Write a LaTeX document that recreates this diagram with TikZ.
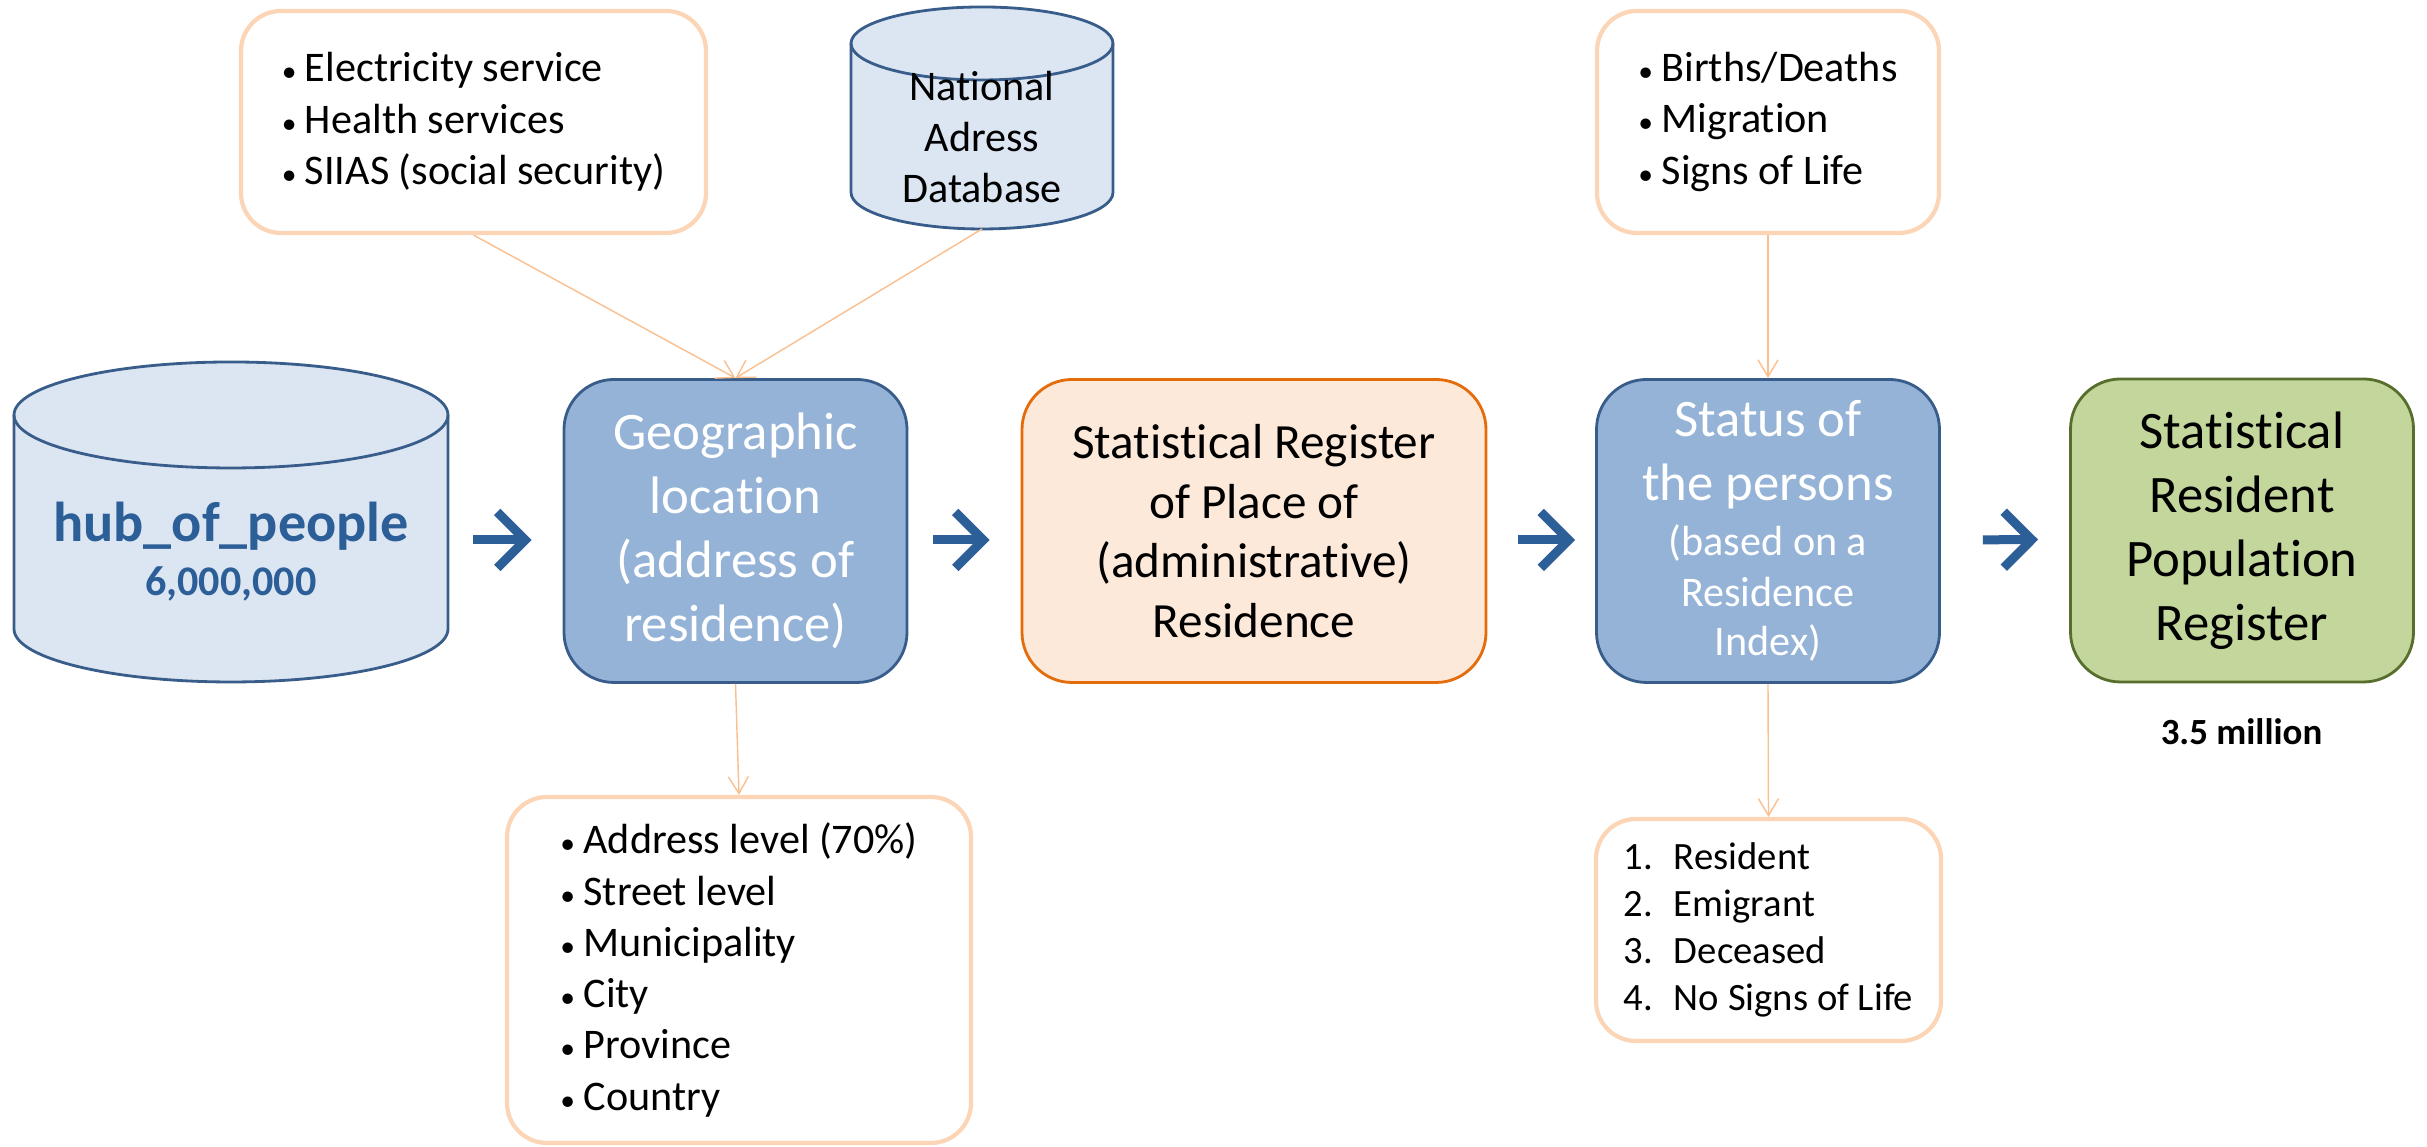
\documentclass[tikz,border=0pt]{standalone}
\usepackage{fontspec}
\setmainfont{Carlito}[Ligatures=NoCommon]
\usepackage{graphicx}
\usepackage{tikz}
\usetikzlibrary{arrows,arrows.meta,positioning}
\definecolor{dbfill}{RGB}{220,230,242}
\definecolor{dbline}{RGB}{56,93,138}
\definecolor{geofill}{RGB}{149,179,215}
\definecolor{regfill}{RGB}{253,233,217}
\definecolor{regline}{RGB}{228,108,10}
\definecolor{popfill}{RGB}{195,214,155}
\definecolor{popline}{RGB}{88,110,45}
\definecolor{srcline}{RGB}{251,213,181}
\definecolor{linkcol}{RGB}{250,191,143}
\definecolor{hubblue}{RGB}{44,94,152}
\newcommand\fs[2]{\fontsize{#1}{#2}\selectfont}
\newcommand\bulit{\makebox[0.55em][l]{\scalebox{0.7}{\textbullet}}}
\newcommand\itemno[1]{\makebox[1.3em][l]{#1.}}

\begin{document}
\begin{tikzpicture}[%
        link/.style={draw=linkcol,-{Straight Barb[length=4.8pt,width=5.7pt]}},
        bigarr/.style={draw=hubblue,line width=0.09cm,-{Straight Barb[length=0.28cm,width=0.56cm]}}]%
        \useasboundingbox (0,0) rectangle (24.27,11.47);%
        %% data base drums
        \draw[dbline,fill=dbfill,line width=0.8pt] (0.14,7.32) -- (0.14,5.18) arc (180:360:2.17 and 0.53) -- (4.48,7.32) arc (0:180:2.17 and 0.53) -- cycle; %%
        \draw[dbline,line width=0.8pt] (0.14,7.32) arc (180:360:2.17 and 0.53); %%
        \draw[dbline,fill=dbfill,line width=0.8pt] (8.51,11.035) -- (8.51,9.545) arc (180:360:1.31 and 0.365) -- (11.13,11.035) arc (0:180:1.31 and 0.365) -- cycle; %%
        \draw[dbline,line width=0.8pt] (8.51,11.035) arc (180:360:1.31 and 0.365); %%
        \coordinate (hubE) at (4.48,6.16); %%
        \coordinate (nadb) at (9.82,9.18); %%
        \node[text=hubblue,font=\bfseries\fs{16}{19.2},align=center] (hub) at (2.31,5.955) {hub\_of\_people\\[-0.13cm]{\fs{12}{14.4}6,000,000}}; %%
        \node[align=center,font=\fs{12}{14.6}] (nad) at (9.82,10.10) {National\\Adress\\Database}; %%
        %% main row
        \begin{scope}
        \tikzstyle{every node}=[draw,line width=0.8pt,rounded corners=0.5cm,align=center,minimum width=3.43cm,minimum height=3.03cm,font=\fs{15}{18.2}] %%
        \node[fill=geofill,draw=dbline,text=white] (geo) at (7.355,6.16) {Geographic\\location\\(address of\\residence)}; %%
        \node[fill=regfill,draw=regline,minimum width=4.64cm,font=\fs{14}{17}] (reg) at (12.54,6.16) {Statistical Register\\of Place of\\(administrative)\\Residence}; %%
        \node[fill=geofill,draw=dbline,text=white] (status) at (17.68,6.16) {Status of\\the persons\\[-0.09cm]{\fs{12}{14.5}(based on a}\\[-0.13cm]{\fs{12}{14.5}Residence}\\[-0.15cm]{\fs{12}{14.5}Index)}}; %%
        \node[fill=popfill,draw=popline] (popreg) at (22.42,6.165) {Statistical\\Resident\\Population\\Register}; %%
        \end{scope}
        \node[font=\bfseries\fs{10.5}{12.6}] (million) at (22.415,4.15) {3.5 million}; %%
        %% source and outcome lists
        \begin{scope}
        \tikzstyle{every node}=[draw=srcline,line width=1.2pt,fill=white,rounded corners=0.4cm,align=left,font=\fs{12}{14.6}] %%
        \node[minimum width=4.65cm,minimum height=2.22cm] (elec) at (4.735,10.25) {\bulit Electricity service\\\bulit Health services\\\bulit SIIAS (social security)}; %%
        \node[minimum width=3.42cm,minimum height=2.22cm] (births) at (17.68,10.25) {\bulit Births/Deaths\\\bulit Migration\\\bulit Signs of Life}; %%
        \node[minimum width=4.64cm,minimum height=3.46cm] (addr) at (7.39,1.77) {\bulit Address level (70\%)\\\bulit Street level\\\bulit Municipality\\\bulit City\\\bulit Province\\\bulit Country}; %%
        \node[minimum width=3.45cm,minimum height=2.22cm,font=\fs{11}{13.3}] (outc) at (17.685,2.17) {\itemno{1}Resident\\\itemno{2}Emigrant\\\itemno{3}Deceased\\\itemno{4}No Signs of Life}; %%
        \end{scope}
        %% thin links
        \draw[link] (elec.south) -- (geo.north); %%
        \draw[link] (nadb) -- (geo.north); %%
        \draw[link] (births.south) -- (status.north); %%
        \draw[link] (geo.south) -- (addr.north); %%
        \draw[link] (status.south) -- (outc.north); %%
        %% flow arrows
        \draw[bigarr,shorten <=0.25cm,shorten >=0.31cm] ([yshift=-0.09cm]hubE) -- ([yshift=-0.09cm]geo.west); %%
        \draw[bigarr,shorten <=0.25cm,shorten >=0.31cm] ([yshift=-0.09cm]geo.east) -- ([yshift=-0.09cm]reg.west); %%
        \draw[bigarr,shorten <=0.31cm,shorten >=0.20cm] ([yshift=-0.09cm]reg.east) -- ([yshift=-0.09cm]status.west); %%
        \draw[bigarr,shorten <=0.42cm,shorten >=0.31cm] ([yshift=-0.09cm]status.east) -- ([yshift=-0.09cm]popreg.west); %%
\end{tikzpicture}
\end{document}
